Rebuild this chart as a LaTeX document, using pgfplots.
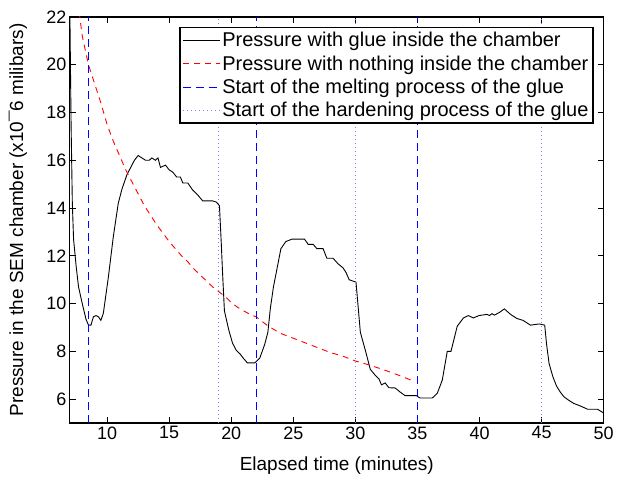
\documentclass[border=0pt]{standalone}
\usepackage{pgfplots}
\pgfplotsset{compat=1.18}
\usepackage{fontspec}
\setmainfont{Liberation Sans}
\definecolor{lightblu}{rgb}{0.5,0.5,1}
\begin{document}
\begin{tikzpicture}
\begin{axis}[
 scale only axis, width=535pt, height=407pt,
 xmin=7, xmax=50, ymin=5, ymax=22,
 xtick={10,15,...,50}, ytick={6,8,...,22},
 tick align=inside, major tick length=6pt,
 tick style={black, line width=0.8pt},
 axis line style={line width=1.2pt},
 /pgf/number format/assume math mode=true,
 ticklabel style={font=\fontsize{18}{21}\selectfont},
 label style={font=\fontsize{19}{23}\selectfont},
 xlabel={Elapsed time (minutes)},
 ylabel={Pressure in the SEM chamber (x10¯6 milibars)},
 xlabel style={at={(axis description cs:0.5,-0.1057)}, anchor=center},
 ylabel style={at={(axis description cs:-0.0972,0.5)}, anchor=center},
 legend style={at={(0.981,0.975)}, anchor=north east, draw=black, line width=1.2pt,
   font=\fontsize{20}{23}\selectfont, row sep=3.5pt, inner sep=2.5pt,
   cells={anchor=west}},
 legend image code/.code={\draw[#1] (0pt,0pt) -- (37pt,0pt);},
]
\addplot[draw=black, line width=0.9pt] coordinates {
(7.00,22.3)(7.10,17.5)(7.20,14.2)(7.30,12.7)(7.50,11.6)(7.70,10.7)(8.00,10.0)(8.30,9.35)
(8.50,9.1)(8.70,9.1)(8.90,9.45)(9.10,9.5)(9.30,9.45)(9.50,9.3)(9.70,9.6)(10.10,11.1)
(10.50,12.8)(10.90,14.2)(11.20,14.8)(11.60,15.4)(11.90,15.7)(12.20,16.0)(12.50,16.2)
(12.80,16.1)(13.10,16.0)(13.40,16.0)(13.60,16.1)(13.90,16.0)(14.10,16.1)(14.30,15.7)
(14.70,15.8)(15.00,15.6)(15.30,15.5)(15.60,15.3)(15.90,15.3)(16.10,15.05)(16.50,15.05)
(16.90,14.75)(17.30,14.55)(17.70,14.3)(18.50,14.3)(18.80,14.25)(19.05,14.1)(19.20,12.5)
(19.30,11.3)(19.45,9.7)(19.80,8.9)(20.10,8.35)(20.40,8.05)(20.70,7.9)(21.00,7.7)
(21.30,7.52)(21.90,7.52)(22.30,7.72)(22.70,8.3)(22.95,8.8)(23.15,9.8)(23.40,10.7)
(23.70,11.5)(24.00,12.3)(24.40,12.6)(24.90,12.7)(25.90,12.7)(26.20,12.48)(26.60,12.48)
(26.90,12.3)(27.40,12.3)(27.70,11.9)(28.20,11.9)(28.60,11.67)(29.00,11.5)(29.25,11.3)
(29.50,11.0)(30.05,10.9)(30.20,10.0)(30.40,8.8)(30.80,8.05)(31.20,7.25)(31.60,7.0)
(31.90,6.85)(32.10,6.6)(32.40,6.68)(32.70,6.48)(33.20,6.47)(33.60,6.3)(34.00,6.15)
(34.90,6.15)(35.20,6.05)(36.20,6.05)(36.60,6.25)(37.00,6.8)(37.40,8.0)(37.70,8.0)
(38.20,9.05)(38.70,9.4)(39.10,9.5)(39.50,9.4)(39.95,9.5)(40.60,9.55)(40.80,9.5)
(41.00,9.58)(41.20,9.52)(41.60,9.63)(42.00,9.78)(42.50,9.55)(43.00,9.38)(43.50,9.3)
(44.10,9.1)(44.80,9.15)(45.25,9.1)(45.40,8.3)(45.60,7.5)(45.90,6.95)(46.20,6.55)
(46.50,6.3)(46.80,6.1)(47.20,5.95)(47.60,5.82)(48.10,5.72)(48.70,5.58)(49.50,5.58)
(50.00,5.42)
};
\addlegendentry{Pressure with glue inside the chamber}
\addplot[draw=red, line width=0.9pt, dash pattern=on 6pt off 5pt] coordinates {
(7.75,22.2)(8.0,21.2)(8.5,20.0)(9.0,19.2)(9.5,18.4)(10.0,17.5)(10.5,16.8)(11.0,16.2)
(11.5,15.6)(12.0,15.1)(12.5,14.6)(13.0,14.1)(13.5,13.7)(14.0,13.3)(14.5,12.95)(15.0,12.6)
(15.5,12.3)(16.0,12.0)(16.5,11.75)(17.0,11.45)(17.5,11.2)(18.0,10.95)(18.5,10.7)(19.0,10.5)
(19.5,10.3)(20.0,10.05)(20.5,9.85)(21.0,9.7)(21.5,9.55)(22.0,9.45)(22.5,9.25)(23.0,9.05)
(23.5,8.9)(24.0,8.75)(25.0,8.55)(26.0,8.35)(27.0,8.15)(28.0,7.95)(29.0,7.8)(30.0,7.6)
(31.0,7.45)(32.0,7.28)(33.0,7.1)(34.0,6.9)(34.7,6.75)
};
\addlegendentry{Pressure with nothing inside the chamber}
\addplot[draw=blue, line width=0.9pt, dash pattern=on 8pt off 5pt] coordinates {(8.5,5)(8.5,22)};
\addlegendentry{Start of the melting process of the glue}
\addplot[draw=lightblu, line width=0.9pt, dash pattern=on 1pt off 3pt] coordinates {(19,5)(19,22)};
\addlegendentry{Start of the hardening process of the glue}
\addplot[draw=blue, line width=0.9pt, dash pattern=on 8pt off 5pt, forget plot] coordinates {(22,5)(22,22)};
\addplot[draw=blue, line width=0.9pt, dash pattern=on 8pt off 5pt, forget plot] coordinates {(35,5)(35,22)};
\addplot[draw=lightblu, line width=0.9pt, dash pattern=on 1pt off 3pt, forget plot] coordinates {(30,5)(30,22)};
\addplot[draw=lightblu, line width=0.9pt, dash pattern=on 1pt off 3pt, forget plot] coordinates {(45,5)(45,22)};
\end{axis}
\path ([xshift=-70pt,yshift=-62pt]current axis.south west) rectangle ([xshift=12pt,yshift=17pt]current axis.north east);
\end{tikzpicture}
\end{document}
